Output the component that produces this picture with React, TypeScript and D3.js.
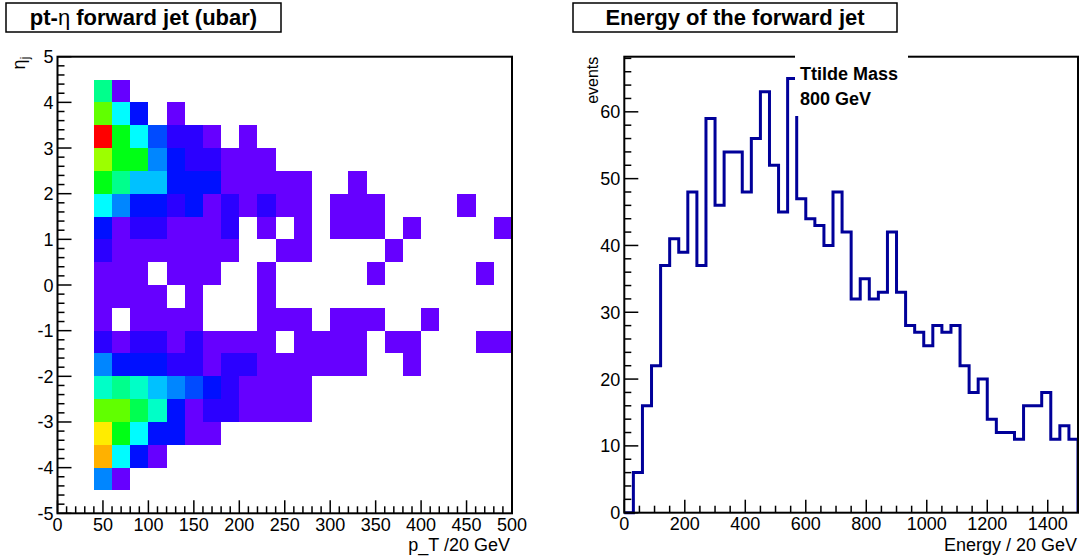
import React from 'react';
import * as d3 from 'd3';

// ---- data ----
// pt-eta 2D histogram: pt bins of 20 GeV from 0 to 500, eta bins of 0.5
// rows listed from the top (eta 4.0-4.5) down to the bottom (eta -4.5 - -4.0)
const ptBinWidth = 20;
const etaBinWidth = 0.5;
const etaRowLow = [4, 3.5, 3, 2.5, 2, 1.5, 1, 0.5, 0, -0.5, -1, -1.5, -2, -2.5, -3, -3.5, -4, -4.5];
const ptEtaCounts = [
  [0, 0, 9, 1, 0, 0, 0, 0, 0, 0, 0, 0, 0, 0, 0, 0, 0, 0, 0, 0, 0, 0, 0, 0, 0],
  [0, 0, 13, 7, 3, 0, 1, 0, 0, 0, 0, 0, 0, 0, 0, 0, 0, 0, 0, 0, 0, 0, 0, 0, 0],
  [0, 0, 20, 11, 7, 4, 2, 2, 1, 0, 1, 0, 0, 0, 0, 0, 0, 0, 0, 0, 0, 0, 0, 0, 0],
  [0, 0, 14, 11, 11, 5, 3, 2, 2, 1, 1, 1, 0, 0, 0, 0, 0, 0, 0, 0, 0, 0, 0, 0, 0],
  [0, 0, 11, 9, 6, 6, 3, 3, 3, 1, 1, 1, 1, 1, 0, 0, 1, 0, 0, 0, 0, 0, 0, 0, 0],
  [0, 0, 7, 5, 3, 3, 2, 3, 1, 2, 1, 2, 1, 1, 0, 1, 1, 1, 0, 0, 0, 0, 1, 0, 0],
  [0, 0, 3, 1, 2, 2, 1, 1, 1, 2, 0, 1, 0, 1, 0, 1, 1, 1, 0, 1, 0, 0, 0, 0, 1],
  [0, 0, 2, 1, 1, 1, 1, 1, 1, 1, 0, 0, 1, 1, 0, 0, 0, 0, 1, 0, 0, 0, 0, 0, 0],
  [0, 0, 1, 1, 1, 0, 1, 1, 1, 0, 0, 1, 0, 0, 0, 0, 0, 1, 0, 0, 0, 0, 0, 1, 0],
  [0, 0, 1, 1, 1, 1, 0, 1, 0, 0, 0, 1, 0, 0, 0, 0, 0, 0, 0, 0, 0, 0, 0, 0, 0],
  [0, 0, 1, 0, 1, 1, 1, 1, 0, 0, 0, 1, 1, 1, 0, 1, 1, 1, 0, 0, 1, 0, 0, 0, 0],
  [0, 0, 2, 1, 2, 2, 1, 2, 1, 1, 1, 1, 0, 1, 1, 1, 1, 0, 1, 1, 0, 0, 0, 1, 1],
  [0, 0, 5, 3, 3, 3, 2, 2, 1, 2, 2, 1, 1, 1, 1, 1, 1, 0, 0, 1, 0, 0, 0, 0, 0],
  [0, 0, 8, 9, 8, 6, 5, 4, 3, 2, 1, 1, 1, 1, 0, 0, 0, 0, 0, 0, 0, 0, 0, 0, 0],
  [0, 0, 13, 13, 10, 8, 3, 1, 2, 2, 1, 1, 1, 1, 0, 0, 0, 0, 0, 0, 0, 0, 0, 0, 0],
  [0, 0, 16, 11, 7, 3, 3, 1, 1, 0, 0, 0, 0, 0, 0, 0, 0, 0, 0, 0, 0, 0, 0, 0, 0],
  [0, 0, 17, 7, 3, 1, 0, 0, 0, 0, 0, 0, 0, 0, 0, 0, 0, 0, 0, 0, 0, 0, 0, 0, 0],
  [0, 0, 5, 1, 0, 0, 0, 0, 0, 0, 0, 0, 0, 0, 0, 0, 0, 0, 0, 0, 0, 0, 0, 0, 0],
];
const ptTicks = [0, 50, 100, 150, 200, 250, 300, 350, 400, 450, 500];
const etaTicks = [-5, -4, -3, -2, -1, 0, 1, 2, 3, 4, 5];

// energy histogram: 50 bins of 30 GeV from 0 to 1500
const energyBinWidth = 30;
const energyCounts = [
  0, 6, 16, 22, 37, 41, 39, 48, 37, 59,
  46, 54, 54, 48, 56, 63, 52, 45, 65, 47,
  44, 43, 40, 48, 42, 32, 35, 32, 33, 42,
  33, 28, 27, 25, 28, 27, 28, 22, 18, 20,
  14, 12, 12, 11, 16, 16, 18, 11, 13, 11,
];
const energyTicks = [0, 200, 400, 600, 800, 1000, 1200, 1400];
const eventTicks = [0, 10, 20, 30, 40, 50, 60];

const FONT = '"Liberation Sans", Arial, Helvetica, sans-serif';

// ROOT-like rainbow palette: violet for the lowest content, red for the highest
const maxCount = d3.max(ptEtaCounts.flat()) as number;
const hue = d3.scaleLinear().domain([1, maxCount]).range([264, 0]);
const cellColor = (v: number) => d3.hsl(hue(v), 1, 0.5).formatHex();

type Tick = { v: number; major: boolean };
const withMinor = (lo: number, hi: number, step: number, majorEvery: number): Tick[] =>
  d3.range(lo, hi + step / 2, step).map((v) => ({
    v,
    major: Math.abs(v / majorEvery - Math.round(v / majorEvery)) < 1e-6,
  }));

const TitleBox = ({ x0, x1, text }: { x0: number; x1: number; text: React.ReactNode }) => (
  <g>
    <rect x={x0} y={3} width={x1 - x0} height={29} fill="white" stroke="black" strokeWidth={1.5} />
    <text x={(x0 + x1) / 2} y={24.5} textAnchor="middle" fontFamily={FONT} fontWeight="bold" fontSize={22}>
      {text}
    </text>
  </g>
);

const HeatPanel = () => {
  const x = d3.scaleLinear().domain([0, 500]).range([57.5, 512]);
  const y = d3.scaleLinear().domain([-5, 5]).range([513.3, 56.7]);
  const xt = withMinor(0, 500, 10, 50);
  const yt = withMinor(-5, 5, 0.2, 1);

  return (
    <g>
      {ptEtaCounts.map((row, r) =>
        row.map((v, c) =>
          v > 0 ? (
            <rect
              key={`${r}-${c}`}
              x={x(c * ptBinWidth)}
              y={y(etaRowLow[r] + etaBinWidth)}
              width={x((c + 1) * ptBinWidth) - x(c * ptBinWidth)}
              height={y(etaRowLow[r]) - y(etaRowLow[r] + etaBinWidth)}
              fill={cellColor(v)}
              shapeRendering="crispEdges"
            />
          ) : null
        )
      )}
      <rect x={x(0)} y={y(5)} width={x(500) - x(0)} height={y(-5) - y(5)} fill="none" stroke="black" strokeWidth={2} />
      {xt.map((t, i) => (
        <line key={i} x1={x(t.v)} x2={x(t.v)} y1={y(-5)} y2={y(-5) - (t.major ? 13 : 7)} stroke="black" strokeWidth={1.5} />
      ))}
      {yt.map((t, i) => (
        <line key={i} x1={x(0)} x2={x(0) + (t.major ? 14 : 7)} y1={y(t.v)} y2={y(t.v)} stroke="black" strokeWidth={1.5} />
      ))}
      {ptTicks.map((v) => (
        <text key={v} x={x(v)} y={531} textAnchor="middle" fontFamily={FONT} fontSize={18}>
          {v}
        </text>
      ))}
      {etaTicks.map((v) => (
        <text key={v} x={x(0) - 4} y={y(v) + 6.5} textAnchor="end" fontFamily={FONT} fontSize={18}>
          {v}
        </text>
      ))}
      <text x={x(500) - 2} y={551} textAnchor="end" fontFamily={FONT} fontSize={18}>
        p_T /20 GeV
      </text>
      <text transform={`translate(25, ${y(5)}) rotate(-90)`} textAnchor="end" fontFamily={FONT} fontSize={18}>
        η<tspan fontSize={12} dy={4}>j</tspan>
      </text>
    </g>
  );
};

const EnergyPanel = () => {
  const yMax = (d3.max(energyCounts) as number) * 1.05;
  const x = d3.scaleLinear().domain([0, 1500]).range([624.3, 1078]);
  const y = d3.scaleLinear().domain([0, yMax]).range([512.7, 56.7]);
  const xt = withMinor(0, 1500, 50, 200);
  const yt = withMinor(0, 68, 2, 10);

  const pts: [number, number][] = [[0, 0]];
  energyCounts.forEach((v, i) => pts.push([i * energyBinWidth, v]));
  pts.push([energyCounts.length * energyBinWidth, energyCounts[energyCounts.length - 1]]);
  pts.push([energyCounts.length * energyBinWidth, 0]);
  const line = d3
    .line<[number, number]>()
    .x((d) => x(d[0]))
    .y((d) => y(d[1]))
    .curve(d3.curveStepAfter);

  return (
    <g>
      <path d={line(pts) ?? ''} fill="none" stroke="#000099" strokeWidth={3} strokeLinejoin="miter" />
      <rect x={x(0)} y={y(yMax)} width={x(1500) - x(0)} height={y(0) - y(yMax)} fill="none" stroke="black" strokeWidth={2} />
      {xt.map((t, i) => (
        <line key={i} x1={x(t.v)} x2={x(t.v)} y1={y(0)} y2={y(0) - (t.major ? 13 : 7)} stroke="black" strokeWidth={1.5} />
      ))}
      {yt.map((t, i) => (
        <line key={i} x1={x(0)} x2={x(0) + (t.major ? 14 : 7)} y1={y(t.v)} y2={y(t.v)} stroke="black" strokeWidth={1.5} />
      ))}
      {energyTicks.map((v) => (
        <text key={v} x={x(v)} y={530} textAnchor="middle" fontFamily={FONT} fontSize={18}>
          {v}
        </text>
      ))}
      {eventTicks.map((v) => (
        <text key={v} x={x(0) - 4} y={y(v) + 6.5} textAnchor="end" fontFamily={FONT} fontSize={18}>
          {v}
        </text>
      ))}
      <text x={x(1500) - 1} y={551} textAnchor="end" fontFamily={FONT} fontSize={18}>
        Energy / 20 GeV
      </text>
      <text transform={`translate(598, ${y(yMax)}) rotate(-90)`} textAnchor="end" fontFamily={FONT} fontSize={16}>
        events
      </text>
      {/* mass label pave, drawn over the frame */}
      <rect x={795} y={55} width={113} height={61} fill="white" />
      <text x={800} y={80} fontFamily={FONT} fontWeight="bold" fontSize={18}>
        Ttilde Mass
      </text>
      <text x={800} y={105} fontFamily={FONT} fontWeight="bold" fontSize={18}>
        800 GeV
      </text>
    </g>
  );
};

export default function App() {
  return (
    <svg
      width={1079}
      height={560}
      viewBox="0 0 1079 560"
      style={{ position: 'absolute', left: 0, top: 0, background: 'white', display: 'block' }}
    >
      <rect width={1079} height={560} fill="white" />
      <TitleBox x0={6} x1={281} text={<>pt-<tspan fontWeight="normal">η</tspan> forward jet (ubar)</>} />
      <TitleBox x0={573} x1={897} text="Energy of the forward jet" />
      <HeatPanel />
      <EnergyPanel />
    </svg>
  );
}
